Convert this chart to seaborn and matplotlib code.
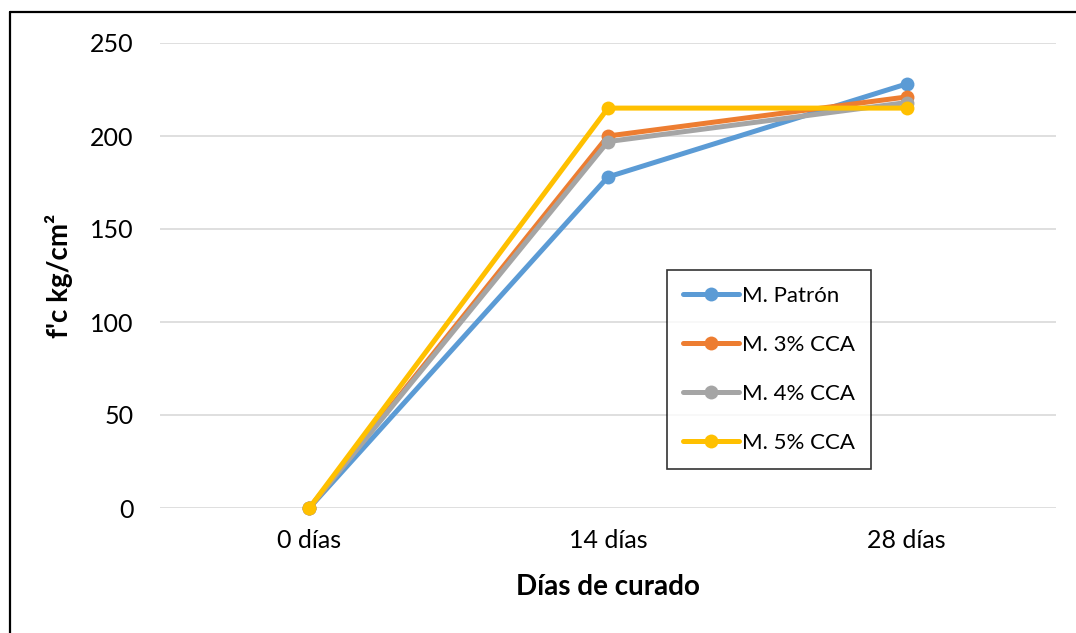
import matplotlib
matplotlib.use("Agg")
import matplotlib.pyplot as plt
from matplotlib.lines import Line2D
import seaborn as sns
import pandas as pd

# Compressive strength f'c (kg/cm²) by curing age
dias = ["0 días", "14 días", "28 días"]
patron = [0, 178, 228]
cca_3 = [0, 200, 221]
cca_4 = [0, 197, 218]
cca_5 = [0, 215, 215]
series = ["M. Patrón", "M. 3% CCA", "M. 4% CCA", "M. 5% CCA"]
colores = ["#5B9BD5", "#ED7D31", "#A5A5A5", "#FFC000"]
y_ticks = [0, 50, 100, 150, 200, 250]

rows = []
for nombre, valores in zip(series, [patron, cca_3, cca_4, cca_5]):
    for d, v in zip(dias, valores):
        rows.append({"dia": d, "fc": v, "serie": nombre})
df = pd.DataFrame(rows)

sns.set_theme(style="white")
plt.rcParams["font.family"] = ["Lato", "DejaVu Sans"]
plt.rcParams["text.color"] = "black"
plt.rcParams["axes.labelcolor"] = "black"

W, H = 1076, 633
fig = plt.figure(figsize=(W / 100, H / 100), dpi=100)
ax = fig.add_axes([160 / W, 1 - 508 / H, 896 / W, 465 / H])

sns.lineplot(
    data=df, x="dia", y="fc", hue="serie", hue_order=series,
    palette=colores, marker="o", markersize=10, markeredgewidth=0,
    linewidth=3.6, sort=False, ax=ax, zorder=3,
)

ax.set_xlim(-0.5, 2.5)
ax.set_ylim(0, 250)
ax.set_yticks(y_ticks)
ax.grid(axis="y", color="#D9D9D9", linewidth=1.2, zorder=0)
ax.grid(axis="x", visible=False)
for s in ax.spines.values():
    s.set_visible(False)
ax.tick_params(axis="both", length=0, labelsize=18, colors="#000000")
ax.tick_params(axis="y", pad=19)
ax.tick_params(axis="x", pad=15)
for line in ax.lines:
    line.set_clip_on(False)

ax.set_xlabel("Días de curado", fontsize=20, fontweight="bold", labelpad=16, color="black")
ax.set_ylabel("f'c kg/cm²", fontsize=20, fontweight="bold", labelpad=12, color="black")

leg = ax.legend(
    title=None, loc="upper left", bbox_to_anchor=((667 - 160) / 896, (508 - 270) / 465),
    fontsize=16, frameon=True, fancybox=False, edgecolor="#000000",
    labelspacing=1.3, handlelength=2.5, handletextpad=0.15,
    borderpad=0.72, borderaxespad=0,
)
leg.get_frame().set_linewidth(1.2)
for t in leg.get_texts():
    t.set_color("black")

# outer chart frame (top and left edges visible)
fig.add_artist(Line2D([10 / W, 1.0], [1 - 12 / H, 1 - 12 / H], color="black", lw=1.6, transform=fig.transFigure))
fig.add_artist(Line2D([10 / W, 10 / W], [0, 1 - 12 / H], color="black", lw=1.6, transform=fig.transFigure))

fig.savefig("out.png", dpi=100, facecolor="white")
